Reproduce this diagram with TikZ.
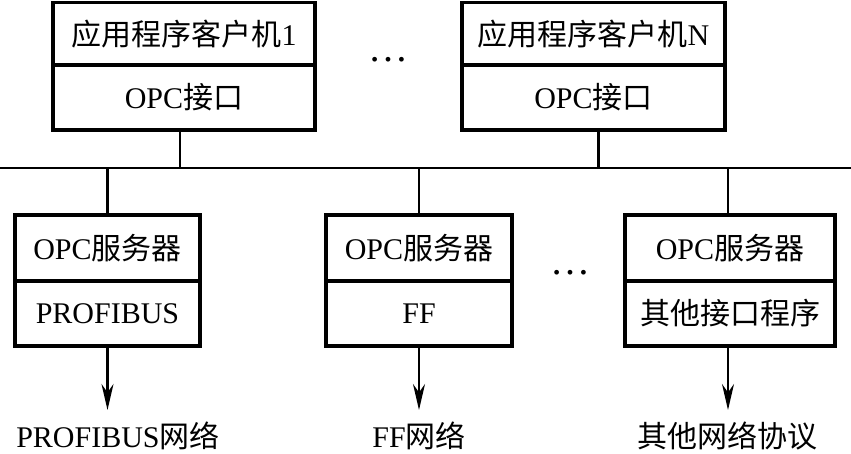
\documentclass[tikz,border=0pt]{standalone}
\usepackage{fontspec}
\setmainfont{Liberation Serif}
\newfontfamily\cjk{Noto Sans CJK SC}
\usetikzlibrary{arrows.meta}
\begin{document}
\begin{tikzpicture}[x=1pt,y=-1pt,
  box/.style={draw, line width=3.2pt, rectangle, inner sep=0pt, font=\fontsize{30}{34}\selectfont},
  wire/.style={line width=2.2pt},
  arr/.style={line width=2.2pt, -{Stealth[length=26pt,width=12pt]}},
  lbl/.style={font=\fontsize{30}{34}\selectfont, inner sep=0pt},
  dots/.style={font=\fontsize{40}{44}\selectfont, inner sep=0pt}]
\useasboundingbox (0,0) rectangle (851,454);
% top boxes
\node[box, minimum width=262pt, minimum height=63pt] (c1a) at (184,34) {{\cjk 应用程序客户机}1};
\node[box, minimum width=262pt, minimum height=65pt] (c1b) at (184,97.5) {OPC{\cjk 接口}};
\node[box, minimum width=263pt, minimum height=63pt] (cna) at (593.5,34) {{\cjk 应用程序客户机}N};
\node[box, minimum width=263pt, minimum height=65pt] (cnb) at (593.5,97.5) {OPC{\cjk 接口}};
\node[dots] (d1) at (388,60) {…};
% bus
\coordinate (busL) at (0,168);
\coordinate (busR) at (851,168);
\draw[wire] (busL) -- (busR);
\draw[wire] ([xshift=-4pt]c1b.south) -- ([xshift=-4pt]c1b.south |- busL);
\draw[wire] ([xshift=5pt]cnb.south) -- ([xshift=5pt]cnb.south |- busL);
% bottom boxes
\node[box, minimum width=185pt, minimum height=66pt] (s1a) at (107.5,248) {OPC{\cjk 服务器}};
\node[box, minimum width=185pt, minimum height=65pt] (s1b) at (107.5,313.5) {PROFIBUS};
\node[box, minimum width=186pt, minimum height=66pt] (s2a) at (419,248) {OPC{\cjk 服务器}};
\node[box, minimum width=186pt, minimum height=65pt] (s2b) at (419,313.5) {FF};
\node[box, minimum width=210pt, minimum height=66pt] (s3a) at (730,248) {OPC{\cjk 服务器}};
\node[box, minimum width=210pt, minimum height=65pt] (s3b) at (730,313.5) {{\cjk 其他接口程序}};
\node[dots] (d2) at (570,273) {…};
% bus to servers
\draw[wire] (s1a.north |- busL) -- (s1a.north);
\draw[wire] (s2a.north |- busL) -- (s2a.north);
\draw[wire] ([xshift=-2pt]s3a.north |- busL) -- ([xshift=-2pt]s3a.north);
% outputs
\coordinate (o1) at (107.5,410);
\coordinate (o2) at (419,410);
\coordinate (o3) at (728,410);
\draw[arr] (s1b.south) -- (o1);
\draw[arr] (s2b.south) -- (o2);
\draw[arr] (s3b.south -| o3) -- (o3);
\node[lbl] (l1) at (118,436) {PROFIBUS{\cjk 网络}};
\node[lbl] (l2) at (419,436) {FF{\cjk 网络}};
\node[lbl] (l3) at (727,436) {{\cjk 其他网络协议}};
\end{tikzpicture}
\end{document}
